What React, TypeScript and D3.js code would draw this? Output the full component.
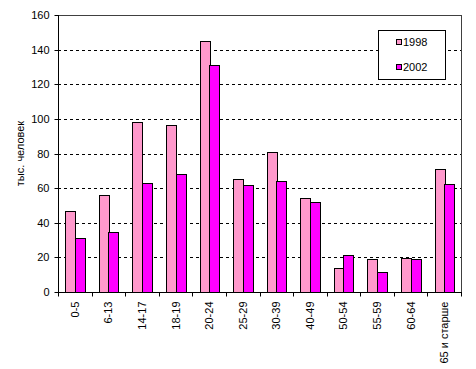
import React, { useRef, useEffect } from 'react';
import * as d3 from 'd3';

const categories = ['0-5', '6-13', '14-17', '18-19', '20-24', '25-29', '30-39', '40-49', '50-54', '55-59', '60-64', '65 и старше'];
const values1998 = [47, 56, 98, 96.5, 145, 65, 81, 54.3, 14, 19, 19.6, 71];
const values2002 = [31, 34.7, 63, 68, 131, 62, 64, 52, 21.4, 11.6, 19, 62.5];
const seriesNames = ['1998', '2002'];
const seriesColors = ['#FF99CC', '#FF00FF'];
const yTicks = [0, 20, 40, 60, 80, 100, 120, 140, 160];

const W = 476;
const H = 369;
const FONT = '"Liberation Sans", Arial, sans-serif';

export default function App() {
  const ref = useRef(null);

  useEffect(() => {
    const svg = d3.select(ref.current);
    svg.selectAll('*').remove();

    const left = 58, right = 461, top = 15, bottom = 292;

    const x = d3.scaleBand().domain(categories).range([left, right]).paddingInner(0).paddingOuter(0);
    const y = d3.scaleLinear().domain([0, 160]).range([bottom, top]);
    const groupW = x.bandwidth() / 1.75;
    const xs = d3.scaleBand().domain(seriesNames).range([0, groupW]);

    // gridlines
    svg.append('g')
      .selectAll('line')
      .data(yTicks.filter((t) => t > 0 && t < 160))
      .enter()
      .append('line')
      .attr('x1', left)
      .attr('x2', right)
      .attr('y1', (d) => Math.round(y(d)) + 0.5)
      .attr('y2', (d) => Math.round(y(d)) + 0.5)
      .attr('stroke', '#000')
      .attr('stroke-dasharray', '3,3');

    // plot border
    svg.append('rect')
      .attr('x', left + 0.5)
      .attr('y', top + 0.5)
      .attr('width', right - left)
      .attr('height', bottom - top)
      .attr('fill', 'none')
      .attr('stroke', '#404040');

    // bars
    const series = [values1998, values2002];
    series.forEach((vals, si) => {
      svg.append('g')
        .selectAll('rect')
        .data(vals)
        .enter()
        .append('rect')
        .attr('x', (d, i) => Math.round(x(categories[i]) + (x.bandwidth() - groupW) / 2 + xs(seriesNames[si])) + 0.5)
        .attr('y', (d) => Math.round(y(d)) + 0.5)
        .attr('width', Math.round(xs.bandwidth()))
        .attr('height', (d) => Math.round(bottom) - Math.round(y(d)))
        .attr('fill', seriesColors[si])
        .attr('stroke', '#000')
        .attr('stroke-width', 1);
    });

    // y axis
    const yAxis = svg.append('g').attr('transform', `translate(${left + 0.5},0)`);
    yAxis.append('line').attr('y1', top).attr('y2', bottom + 0.5).attr('stroke', '#000');
    yTicks.forEach((t) => {
      const yy = Math.round(y(t)) + 0.5;
      yAxis.append('line').attr('x1', -4).attr('x2', 0).attr('y1', yy).attr('y2', yy).attr('stroke', '#000');
      yAxis.append('text')
        .attr('x', -9)
        .attr('y', yy)
        .attr('dy', '0.35em')
        .attr('text-anchor', 'end')
        .attr('font-family', FONT)
        .attr('font-size', 11)
        .attr('fill', '#000')
        .text(t);
    });

    // x axis
    const xAxis = svg.append('g').attr('transform', `translate(0,${bottom + 0.5})`);
    xAxis.append('line').attr('x1', left).attr('x2', right + 1).attr('stroke', '#000');
    categories.concat(['_end']).forEach((c, i) => {
      const xx = Math.round(left + i * x.step()) + 0.5;
      xAxis.append('line').attr('x1', xx).attr('x2', xx).attr('y1', 0).attr('y2', 4).attr('stroke', '#000');
    });
    categories.forEach((c) => {
      const cx = x(c) + x.bandwidth() / 2;
      xAxis.append('text')
        .attr('transform', `translate(${cx + 4},9) rotate(-90)`)
        .attr('text-anchor', 'end')
        .attr('font-family', FONT)
        .attr('font-size', 11)
        .attr('fill', '#000')
        .text(c);
    });

    // y label
    svg.append('text')
      .attr('transform', `translate(24,${(top + bottom) / 2}) rotate(-90)`)
      .attr('text-anchor', 'middle')
      .attr('font-family', FONT)
      .attr('font-size', 11)
      .attr('fill', '#000')
      .text('тыс. человек');

    // legend
    const lg = svg.append('g');
    lg.append('rect')
      .attr('x', 378.5)
      .attr('y', 30.5)
      .attr('width', 67)
      .attr('height', 49)
      .attr('fill', '#fff')
      .attr('stroke', '#000');
    seriesNames.forEach((n, i) => {
      const cy = 42.5 + i * 25;
      lg.append('rect')
        .attr('x', 396.5)
        .attr('y', cy - 3)
        .attr('width', 5)
        .attr('height', 5)
        .attr('fill', seriesColors[i])
        .attr('stroke', '#000');
      lg.append('text')
        .attr('x', 403)
        .attr('y', cy)
        .attr('dy', '0.35em')
        .attr('font-family', FONT)
        .attr('font-size', 11)
        .attr('fill', '#000')
        .text(n);
    });
  }, []);

  return (
    <div style={{ position: 'absolute', left: 0, top: 0 }}>
      <svg ref={ref} width={W} height={H} style={{ display: 'block', background: '#fff' }} />
    </div>
  );
}
